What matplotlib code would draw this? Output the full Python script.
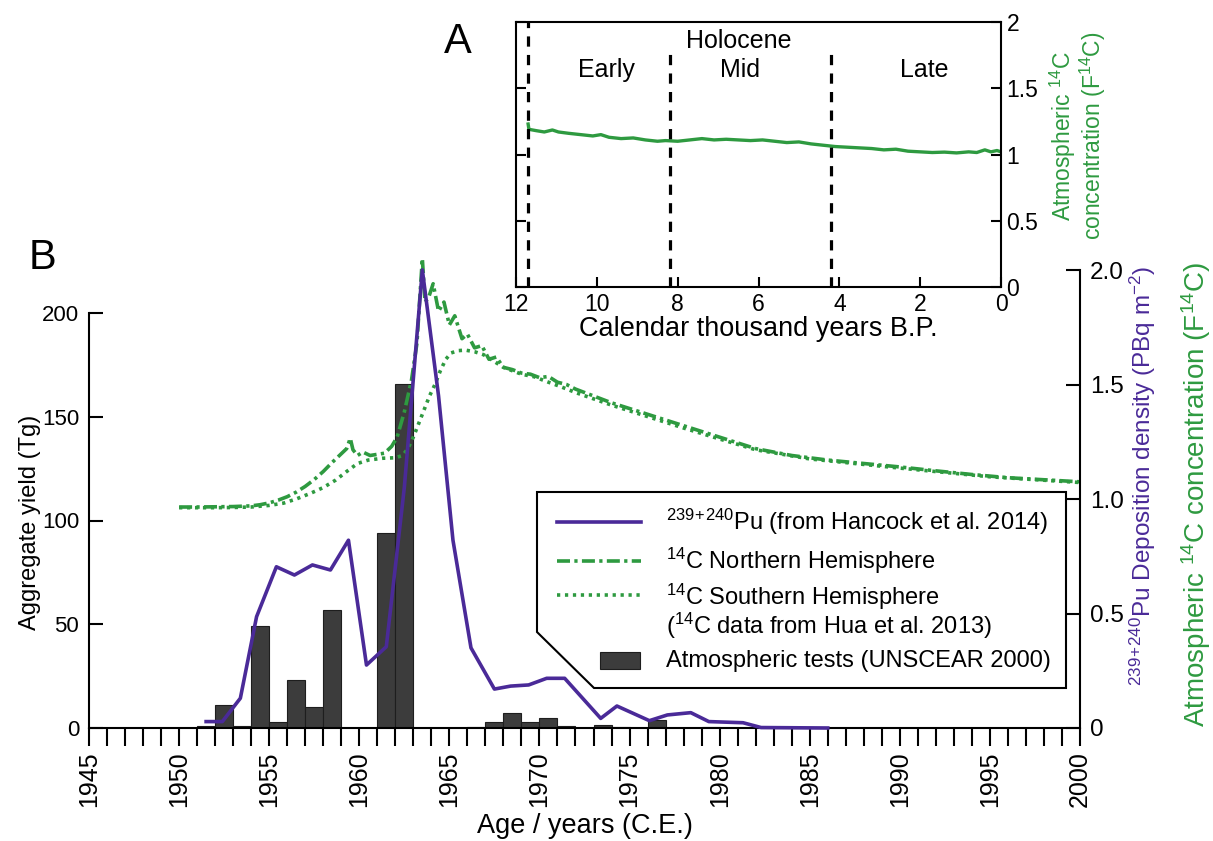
import numpy as np
import matplotlib
matplotlib.use('Agg')
from matplotlib import pyplot as plt
from matplotlib.patches import Polygon, Rectangle
from matplotlib.lines import Line2D

plt.rcParams['font.family'] = ['Liberation Sans', 'DejaVu Sans']
plt.rcParams['mathtext.fontset'] = 'custom'
plt.rcParams['mathtext.rm'] = 'Liberation Sans'
plt.rcParams['mathtext.it'] = 'Liberation Sans:italic'
plt.rcParams['mathtext.bf'] = 'Liberation Sans:bold'
NARROW = ['Liberation Sans Narrow', 'Liberation Sans', 'DejaVu Sans']

GREEN = '#2e9a40'
PURPLE = '#4a2a98'
BAR = '#3c3c3c'
PU_SUP = r'$^{239}$$^{+}$$^{240}$'

# atmospheric tests (UNSCEAR 2000), aggregate yield in Tg
test_years = [1951, 1952, 1953, 1954, 1955, 1956, 1957, 1958, 1961, 1962,
              1966, 1967, 1968, 1969, 1970, 1971, 1973, 1974, 1976, 1979]
test_yield = [1, 11, 1, 49, 3, 23, 10, 57, 94, 166,
              0.6, 3, 7, 3, 5, 1, 1.5, 0.4, 4, 0.5]

# 239+240Pu deposition density (Hancock et al. 2014)
pu_year = [1951.5, 1952.4, 1953.4, 1954.3, 1955.4, 1956.4, 1957.4, 1958.4, 1959.4,
           1960.4, 1961.5, 1962.5, 1963.5, 1964.4, 1965.2, 1966.2, 1967.5, 1968.4,
           1969.4, 1970.4, 1971.4, 1973.4, 1974.3, 1976.1, 1977.1, 1978.4, 1979.4,
           1981.3, 1982.3, 1986.0]
pu_dep = [0.028, 0.028, 0.13, 0.486, 0.704, 0.668, 0.712, 0.69, 0.82,
          0.275, 0.355, 1.05, 2.0, 1.45, 0.82, 0.35, 0.17, 0.183,
          0.188, 0.217, 0.217, 0.042, 0.096, 0.032, 0.057, 0.067, 0.028,
          0.023, 0.002, 0.0]

# 14C Northern Hemisphere (Hua et al. 2013)
nh_year = [1950.0, 1951.0, 1952.0, 1953.0, 1954.0, 1954.5, 1955.0, 1955.5, 1956.0, 1956.5,
           1957.0, 1957.5, 1958.0, 1958.5, 1958.9, 1959.3, 1959.5, 1959.65, 1959.9, 1960.2,
           1960.6, 1961.0, 1961.4, 1961.8, 1962.1, 1962.5, 1962.9, 1963.2, 1963.5, 1963.65,
           1963.85, 1964.1, 1964.4, 1964.7, 1965.0, 1965.3, 1965.7, 1966.0, 1966.4, 1966.8,
           1967.2, 1967.6, 1968.0, 1968.5, 1969.0, 1969.5, 1970.0, 1970.5, 1971.0, 1971.5,
           1972.0, 1973.0, 1974.0, 1975.0, 1976.0, 1977.0, 1978.0, 1979.0, 1980.0, 1981.0,
           1982.0, 1983.0, 1984.0, 1986.0, 1988.0, 1990.0, 1992.0, 1994.0, 1996.0, 1998.0,
           2000.0]
nh_f14c = [0.965, 0.965, 0.966, 0.967, 0.970, 0.975, 0.983, 0.995, 1.01, 1.03,
           1.055, 1.085, 1.12, 1.16, 1.19, 1.22, 1.265, 1.215, 1.19, 1.205,
           1.19, 1.195, 1.2, 1.23, 1.27, 1.38, 1.52, 1.68, 2.05, 1.86,
           1.88, 1.94, 1.82, 1.86, 1.76, 1.80, 1.70, 1.72, 1.66, 1.67,
           1.61, 1.62, 1.575, 1.565, 1.55, 1.545, 1.53, 1.535, 1.51, 1.50,
           1.48, 1.45, 1.42, 1.395, 1.37, 1.345, 1.32, 1.295, 1.27, 1.245,
           1.22, 1.205, 1.19, 1.17, 1.155, 1.14, 1.123, 1.107, 1.093, 1.084,
           1.075]

# 14C Southern Hemisphere (Hua et al. 2013)
sh_year = [1950.0, 1952.0, 1953.0, 1954.0, 1955.0, 1955.8, 1956.5, 1957.3, 1958.0, 1958.7,
           1959.3, 1959.9, 1960.5, 1961.3, 1962.0, 1962.4, 1962.7, 1963.0, 1963.3, 1963.6,
           1963.9, 1964.2, 1964.5, 1964.8, 1965.1, 1965.5, 1965.9, 1966.4, 1966.9, 1967.5,
           1968.0, 1968.4, 1969.0, 1969.7, 1970.5, 1971.2, 1972.0, 1973.2, 1974.0, 1975.0,
           1976.0, 1978.0, 1980.0, 1982.0, 1985.0, 1990.0, 1995.0, 2000.0]
sh_f14c = [0.962, 0.962, 0.963, 0.965, 0.972, 0.982, 1.0, 1.025, 1.05, 1.083,
           1.12, 1.155, 1.17, 1.178, 1.18, 1.19, 1.22, 1.27, 1.33, 1.39,
           1.45, 1.50, 1.56, 1.61, 1.638, 1.648, 1.65, 1.643, 1.63, 1.60,
           1.575, 1.563, 1.545, 1.534, 1.51, 1.49, 1.465, 1.432, 1.41, 1.385,
           1.36, 1.31, 1.262, 1.215, 1.175, 1.135, 1.097, 1.072]

# inset: Holocene atmospheric 14C
hol_kyr = [11.7, 11.68, 11.5, 11.3, 11.1, 10.95, 10.7, 10.4, 10.1, 9.9,
           9.7, 9.4, 9.1, 8.8, 8.5, 8.3, 8.0, 7.7, 7.4, 7.1,
           6.8, 6.5, 6.2, 5.9, 5.6, 5.3, 5.0, 4.7, 4.4, 4.1,
           3.8, 3.5, 3.2, 2.9, 2.6, 2.3, 2.0, 1.7, 1.4, 1.1,
           0.8, 0.6, 0.4, 0.25, 0.1, 0.0]
hol_f14c = [1.23, 1.19, 1.18, 1.17, 1.185, 1.17, 1.16, 1.15, 1.14, 1.15,
            1.13, 1.12, 1.125, 1.11, 1.10, 1.105, 1.10, 1.11, 1.12, 1.11,
            1.115, 1.11, 1.105, 1.11, 1.10, 1.09, 1.095, 1.08, 1.07, 1.06,
            1.055, 1.05, 1.045, 1.035, 1.04, 1.025, 1.02, 1.015, 1.018, 1.012,
            1.02, 1.015, 1.035, 1.02, 1.03, 1.02]
hol_bounds = [11.7, 8.2, 4.2]
hol_names = ['Early', 'Mid', 'Late']
hol_name_x = [9.75, 6.45, 1.9]

W, H = 1213, 841


def fx(px):
    return px / W


def fy(py):
    return 1 - py / H


fig = plt.figure(figsize=(12.13, 8.41), dpi=100)

# ---- panel B ----
ax = fig.add_axes([fx(89), fy(728), fx(1080) - fx(89), fy(250) - fy(728)])
ax.bar(test_years, test_yield, width=1, align='edge', color=BAR,
       edgecolor='#1e1e1e', linewidth=0.8)
ax.set_xlim(1945, 2000)
ax.set_ylim(0, 478 / 2.075)
ax.spines['top'].set_visible(False)
ax.spines['right'].set_visible(False)
ax.spines['left'].set_bounds(0, 200)
for s in ['left', 'bottom']:
    ax.spines[s].set_linewidth(1.5)
ax.set_yticks([0, 50, 100, 150, 200])
ax.tick_params(axis='y', direction='in', length=10, width=1.5, labelsize=16, pad=7)
years = list(range(1945, 2001))
ax.set_xticks(years)
ax.set_xticklabels([str(y) if y % 5 == 0 else '' for y in years], rotation=90)
ax.tick_params(axis='x', direction='out', length=13, width=1.5, labelsize=18, pad=4)

ax2 = ax.twinx()
ax2.set_ylim(0, 478 / 229)
for s in ['top', 'left', 'bottom']:
    ax2.spines[s].set_visible(False)
ax2.spines['right'].set_bounds(0, 2.0)
ax2.spines['right'].set_linewidth(1.5)
ax2.set_yticks([0, 0.5, 1.0, 1.5, 2.0])
ax2.set_yticklabels(['0', '0.5', '1.0', '1.5', '2.0'])
ax2.tick_params(axis='y', direction='in', length=10, width=1.5, labelsize=17.5, pad=7)

nh_style = (0, (3.6, 1.2, 0.9, 1.2))
sh_style = (0, (0.9, 1.3))
ax2.plot(nh_year, nh_f14c, color=GREEN, lw=2.6, linestyle=nh_style, clip_on=False)
ax2.plot(sh_year, sh_f14c, color=GREEN, lw=2.6, linestyle=sh_style, clip_on=False)
ax2.plot(pu_year, pu_dep, color=PURPLE, lw=2.6, clip_on=False)

fig.text(fx(585), fy(826), 'Age / years (C.E.)', family=NARROW, fontsize=19.5,
         ha='center', va='center')
fig.text(fx(30), fy(522), 'Aggregate yield (Tg)', fontsize=17, rotation=90,
         ha='center', va='center')
fig.text(fx(1143), fy(476), PU_SUP + r'Pu Deposition density (PBq m$^{-2}$)',
         fontsize=17.5, rotation=90, ha='center', va='center', color=PURPLE)
fig.text(fx(1196), fy(494), r'Atmospheric $^{14}$C concentration (F$^{14}$C)',
         fontsize=20, rotation=90, ha='center', va='center', color=GREEN)
fig.text(fx(42), fy(258), 'B', fontsize=30, ha='center', va='center')
fig.text(fx(458), fy(42), 'A', fontsize=30, ha='center', va='center')

# ---- panel A (inset) ----
ins = fig.add_axes([fx(516), fy(287), fx(1001) - fx(516), fy(22) - fy(287)])
ins.set_xlim(12, 0)
ins.set_ylim(0, 2)
ins.plot(hol_kyr, hol_f14c, color=GREEN, lw=2.4)
for i, b in enumerate(hol_bounds):
    ins.axvline(b, ymax=1.0 if i == 0 else 0.895, color='black', lw=2.3,
                linestyle=(0, (3.2, 2.6)))
ins.text(6.5, 1.86, 'Holocene', family=NARROW, fontsize=18, ha='center', va='center')
for name, x in zip(hol_names, hol_name_x):
    ins.text(x, 1.64, name, family=NARROW, fontsize=18, ha='center', va='center')
ins.set_xticks([12, 10, 8, 6, 4, 2, 0])
ins.set_yticks([0, 0.5, 1, 1.5, 2])
ins.set_yticklabels(['0', '0.5', '1', '1.5', '2'])
ins.yaxis.set_ticks_position('both')
ins.tick_params(axis='y', labelleft=False, labelright=True)
ins.tick_params(direction='in', length=7, width=1.5, labelsize=16.5, pad=4)
for lab in ins.get_xticklabels() + ins.get_yticklabels():
    lab.set_family(NARROW)
for s in ins.spines.values():
    s.set_linewidth(1.5)
ins.set_xlabel('Calendar thousand years B.P.', family=NARROW, fontsize=19.5, labelpad=0)
fig.text(fx(1078), fy(136), 'Atmospheric $^{14}$C\nconcentration (F$^{14}$C)',
         fontsize=16.5, rotation=90, ha='center', va='center', color=GREEN,
         multialignment='center', linespacing=1.0)

# ---- legend with cut corner ----
lg = fig.add_axes([0, 0, 1, 1])
lg.set_xlim(0, W)
lg.set_ylim(H, 0)
lg.axis('off')
lg.add_patch(Polygon([(537, 492), (1066, 492), (1066, 688), (594, 688), (537, 632)],
                     closed=True, facecolor='white', edgecolor='black', lw=1.5))
lg.add_line(Line2D([557, 641], [522, 522], color=PURPLE, lw=2.6))
lg.add_line(Line2D([557, 641], [561, 561], color=GREEN, lw=2.6, linestyle=nh_style))
lg.add_line(Line2D([557, 641], [595, 595], color=GREEN, lw=2.6, linestyle=sh_style))
lg.add_patch(Rectangle((600, 652), 40, 17, facecolor=BAR, edgecolor='#1e1e1e', lw=0.8))
leg_fs = 17
lg.text(666, 522, PU_SUP + 'Pu (from Hancock et al. 2014)', fontsize=leg_fs, va='center')
lg.text(666, 561, r'$^{14}$C Northern Hemisphere', fontsize=leg_fs, va='center')
lg.text(666, 611, '$^{14}$C Southern Hemisphere\n($^{14}$C data from Hua et al. 2013)',
        fontsize=leg_fs, va='center', linespacing=0.95)
lg.text(666, 661, 'Atmospheric tests (UNSCEAR 2000)', fontsize=leg_fs, va='center')

fig.savefig('out.png', dpi=100, facecolor='white')
